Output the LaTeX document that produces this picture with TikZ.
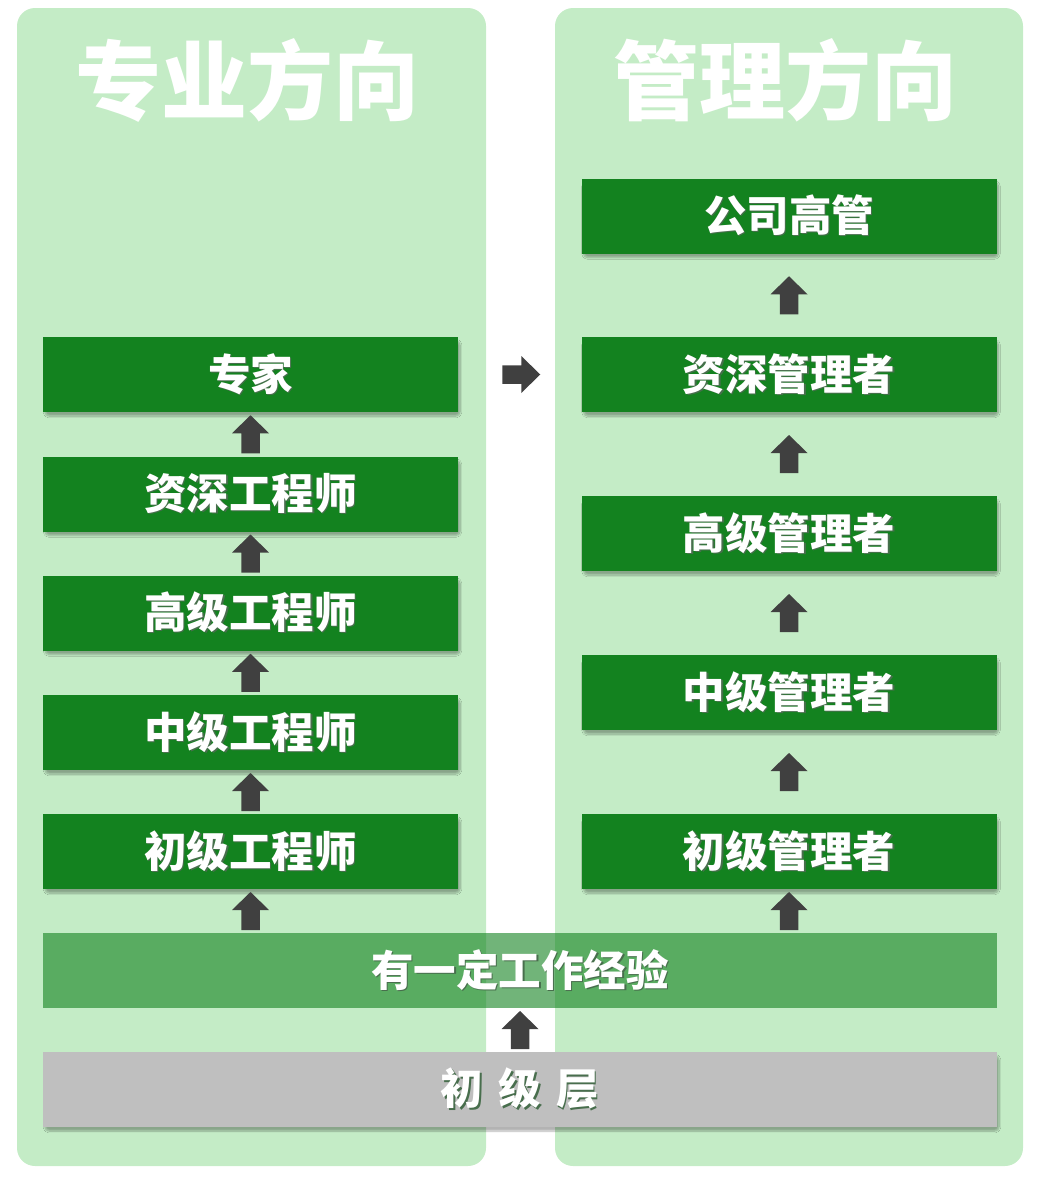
\documentclass[tikz,border=0pt]{standalone}
\usepackage{fontspec}
\newfontfamily\cjkblack{Noto Sans CJK SC Black}
\usetikzlibrary{calc,shadows.blur}
\definecolor{panelc}{HTML}{C4ECC6}
\definecolor{boxc}{HTML}{13821F}
\definecolor{arrc}{HTML}{404040}
\definecolor{grayc}{HTML}{BFBFBF}
\definecolor{tshadow}{HTML}{0B3E12}
\newcommand\shtxt[1]{\makebox[0pt][l]{\hspace{1.4pt}\raisebox{-1.4pt}{\color{tshadow!75}#1}}#1}
\tikzset{
  panel/.style={fill=panelc, draw=none, rounded corners=18pt},
  titletext/.style={text=white, font=\cjkblack\fontsize{86}{90}\selectfont, inner sep=0pt},
  plainbox/.style={draw=none, minimum width=415pt, minimum height=75pt, inner sep=0pt,
    text=white, font=\cjkblack\fontsize{42.5}{46}\selectfont},
  stagebox/.style={plainbox, fill=boxc,
    blur shadow={shadow xshift=2pt, shadow yshift=-4pt, shadow blur steps=10, shadow blur extra rounding=4pt, shadow opacity=30}},
  widebox/.style={stagebox, minimum width=954pt},
  pics/uparr/.style={code={
    \fill[arrc] (0,-19) -- (18.5,-1) -- (9.25,-1) -- (9.25,19) -- (-9.25,19) -- (-9.25,-1) -- (-18.5,-1) -- cycle;}},
  pics/rightarr/.style={code={
    \fill[arrc] (19,0) -- (0,-18.5) -- (0,-9.25) -- (-19,-9.25) -- (-19,9.25) -- (0,9.25) -- (0,18.5) -- cycle;}},
}
\begin{document}
\begin{tikzpicture}[x=1pt,y=-1pt]
\useasboundingbox (0,0) rectangle (1040,1183);
% panels
\fill[panel] (17,8) rectangle (486,1166);
\fill[panel] (555,8) rectangle (1023,1166);
% titles
\node[titletext] (tl) at (247,80) {专业方向};
\node[titletext] (tr) at (785,80) {管理方向};
% left column
\node[stagebox] (l5) at (250.5,374.5) {\shtxt{专家}};
\node[stagebox] (l4) at (250.5,494) {\shtxt{资深工程师}};
\node[stagebox] (l3) at (250.5,613) {\shtxt{高级工程师}};
\node[stagebox] (l2) at (250.5,732.5) {\shtxt{中级工程师}};
\node[stagebox] (l1) at (250.5,851.5) {\shtxt{初级工程师}};
% right column
\node[stagebox] (r6) at (789,216) {\shtxt{公司高管}};
\node[stagebox] (r5) at (789,374.5) {\shtxt{资深管理者}};
\node[stagebox] (r4) at (789,533.5) {\shtxt{高级管理者}};
\node[stagebox] (r3) at (789,692.5) {\shtxt{中级管理者}};
\node[stagebox] (r1) at (789,851.5) {\shtxt{初级管理者}};
% bottom
\node[widebox, fill=grayc] (base) at (520,1089.5) {\shtxt{初\hspace{0.36em}级\hspace{0.36em}层}};
\node[plainbox, minimum width=954pt, fill=boxc, fill opacity=0.6, text opacity=1] (exp) at (520,970.5) {\shtxt{有一定工作经验}};
% arrows
\pic at ($(l5.north)!0.5!(l4.south)$) {uparr};
\pic at ($(l4.north)!0.5!(l3.south)$) {uparr};
\pic at ($(l3.north)!0.5!(l2.south)$) {uparr};
\pic at ($(l2.north)!0.5!(l1.south)$) {uparr};
\pic at ($(l1.south)!0.5!(l1.south |- exp.north)$) {uparr};
\pic at ($(r6.south)!0.5!(r5.north)$) {uparr};
\pic at ($(r5.south)!0.5!(r4.north)$) {uparr};
\pic at ($(r4.south)!0.5!(r3.north)$) {uparr};
\pic at ($(r3.south)!0.5!(r1.north)$) {uparr};
\pic at ($(r1.south)!0.5!(r1.south |- exp.north)$) {uparr};
\pic at ($(exp.south)!0.5!(base.north)$) {uparr};
\pic at ($(l5.east)!0.5!(r5.west)+(1.5,0)$) {rightarr};
\end{tikzpicture}
\end{document}
